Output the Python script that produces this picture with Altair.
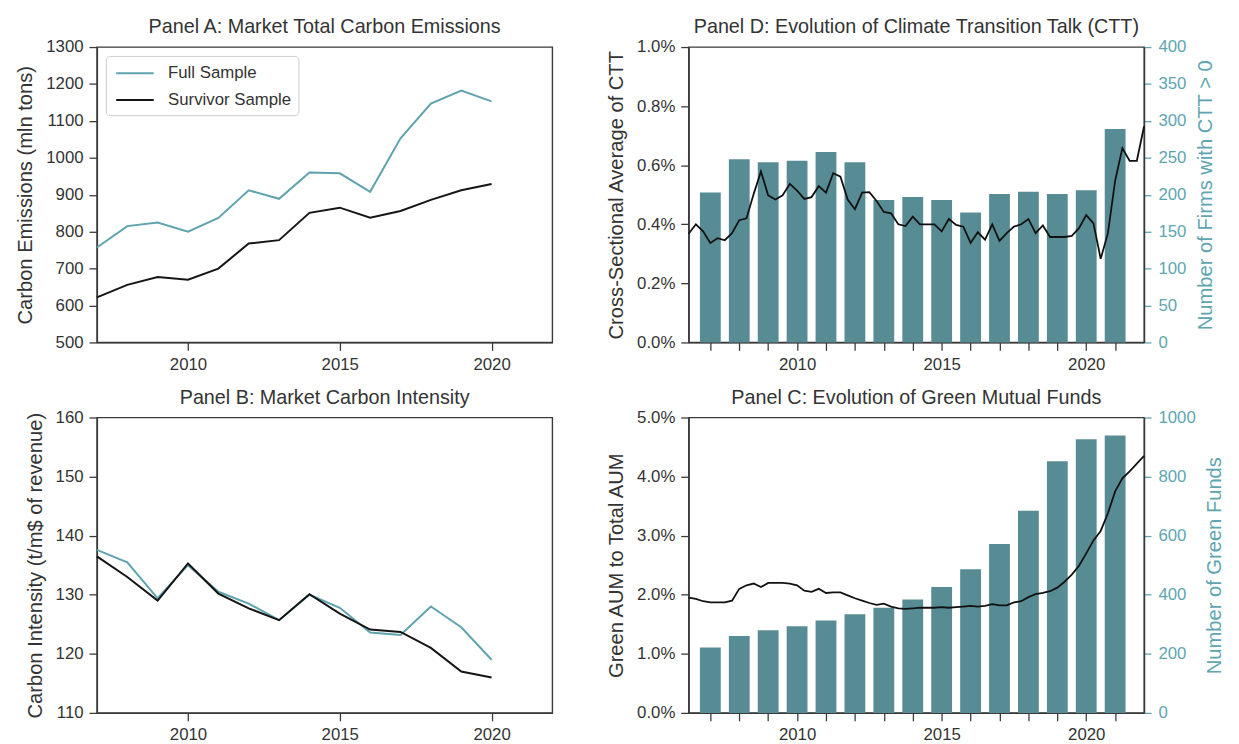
import altair as alt
import pandas as pd

# ---------------- data ----------------
years = [2007, 2008, 2009, 2010, 2011, 2012, 2013, 2014, 2015, 2016, 2017, 2018, 2019, 2020]
full_emissions = [757, 815, 825, 800, 837, 912, 889, 960, 958, 908, 1053, 1147, 1182, 1153]
survivor_emissions = [622, 656, 677, 670, 700, 768, 777, 851, 865, 838, 856, 886, 912, 929]
full_intensity = [137.6, 135.5, 129.4, 135.0, 130.5, 128.5, 125.7, 130.0, 127.8, 123.6, 123.2, 128.0, 124.5, 119.0]
survivor_intensity = [136.5, 133.0, 129.0, 135.3, 130.2, 127.7, 125.7, 130.1, 126.8, 124.1, 123.7, 121.0, 117.0, 116.0]

bar_years = [2007, 2008, 2009, 2010, 2011, 2012, 2013, 2014, 2015, 2016, 2017, 2018, 2019, 2020, 2021]
ctt_firms = [203, 248, 244, 246, 258, 244, 193, 197, 193, 176, 201, 204, 201, 206, 289]
green_funds = [221, 260, 280, 293, 313, 334, 356, 384, 426, 486, 572, 684, 852, 926, 939]

# quarterly time points 2006Q2 .. 2022Q1
quarters = [2006.25 + 0.25 * i for i in range(64)]
ctt_avg = [0.368, 0.400, 0.376,
           0.337, 0.353, 0.346, 0.370,
           0.414, 0.420, 0.503, 0.579,
           0.498, 0.484, 0.498, 0.537,
           0.514, 0.486, 0.492, 0.529,
           0.507, 0.573, 0.561, 0.484,
           0.451, 0.507, 0.509, 0.479,
           0.442, 0.437, 0.400, 0.394,
           0.426, 0.400, 0.400, 0.400,
           0.376, 0.418, 0.398, 0.392,
           0.337, 0.373, 0.348, 0.400,
           0.344, 0.370, 0.392, 0.400,
           0.418, 0.370, 0.396, 0.357,
           0.357, 0.357, 0.361, 0.387,
           0.431, 0.403, 0.283, 0.370,
           0.548, 0.658, 0.615, 0.615,
           0.732]
green_aum = [1.95, 1.93, 1.89,
             1.87, 1.87, 1.87, 1.90,
             2.10, 2.16, 2.19, 2.13,
             2.20, 2.20, 2.20, 2.19,
             2.16, 2.07, 2.05, 2.10,
             2.03, 2.04, 2.04, 1.99,
             1.94, 1.90, 1.86, 1.83,
             1.85, 1.80, 1.77, 1.76,
             1.77, 1.78, 1.78, 1.78,
             1.79, 1.78, 1.79, 1.80,
             1.81, 1.80, 1.81, 1.84,
             1.82, 1.82, 1.87, 1.89,
             1.96, 2.01, 2.03, 2.06,
             2.12, 2.22, 2.34, 2.49,
             2.70, 2.92, 3.08, 3.38,
             3.75, 3.97, 4.09, 4.22,
             4.35]

samples = ["Full Sample", "Survivor Sample"]

# ---------------- style ----------------
FONT = "Liberation Sans"
TXT = "#333333"
SPINE = "#3a3a3a"
TEAL_LINE = "#5ea3ae"
TEAL_BAR = "#588c95"
TEAL_AXIS = "#5ea5b0"
W, H = 461, 299

df_a = pd.DataFrame({"year": years * 2,
                     "value": full_emissions + survivor_emissions,
                     "sample": [samples[0]] * len(years) + [samples[1]] * len(years)})
df_b = pd.DataFrame({"year": years * 2,
                     "value": full_intensity + survivor_intensity,
                     "sample": [samples[0]] * len(years) + [samples[1]] * len(years)})
df_dbar = pd.DataFrame({"year": bar_years, "n": ctt_firms})
df_cbar = pd.DataFrame({"year": bar_years, "n": green_funds})
df_dline = pd.DataFrame({"t": quarters, "v": ctt_avg})
df_cline = pd.DataFrame({"t": quarters, "v": green_aum})

color_scale = alt.Scale(domain=samples, range=[TEAL_LINE, "#151515"])


def x_annual():
    return alt.X("year:Q",
                 scale=alt.Scale(domain=[2007, 2022], nice=False, zero=False),
                 axis=alt.Axis(values=[2010, 2015, 2020], format="d", title=None))


def x_axis_q():
    return alt.Axis(values=bar_years, title=None,
                    labelExpr="datum.value % 5 === 0 ? format(datum.value, 'd') : ''")


xscale_q = alt.Scale(domain=[2006.25, 2022], nice=False, zero=False)

legend_a = alt.Legend(title=None, orient="top-left", offset=9, padding=7,
                      strokeColor="#cccccc", fillColor="white", cornerRadius=4,
                      symbolType="M-2,0H2", symbolSize=361, symbolStrokeWidth=2,
                      symbolOffset=12, labelOffset=23,
                      labelFontSize=17, labelFont=FONT, labelColor=TXT,
                      rowPadding=8)

panel_a = alt.Chart(df_a).mark_line(strokeWidth=2).encode(
    x=x_annual(),
    y=alt.Y("value:Q", scale=alt.Scale(domain=[500, 1300], nice=False, zero=False),
            axis=alt.Axis(values=list(range(500, 1301, 100)), format="d",
                          title="Carbon Emissions (mln tons)")),
    color=alt.Color("sample:N", scale=color_scale, legend=legend_a),
).properties(width=W, height=H, title="Panel A: Market Total Carbon Emissions")

panel_b = alt.Chart(df_b).mark_line(strokeWidth=2).encode(
    x=x_annual(),
    y=alt.Y("value:Q", scale=alt.Scale(domain=[110, 160], nice=False, zero=False),
            axis=alt.Axis(values=list(range(110, 161, 10)), format="d",
                          title="Carbon Intensity (t/m$ of revenue)")),
    color=alt.Color("sample:N", scale=color_scale, legend=None),
).properties(width=W, height=H, title="Panel B: Market Carbon Intensity")


def dual_panel(df_bar, df_line, bar_dom, bar_vals, bar_title, line_dom, line_vals, line_title, title):
    bars = alt.Chart(df_bar).transform_calculate(
        x0="datum.year - 0.36", x1="datum.year + 0.36"
    ).mark_bar(color=TEAL_BAR).encode(
        x=alt.X("x0:Q", scale=xscale_q, axis=x_axis_q()),
        x2="x1:Q",
        y=alt.Y("n:Q", scale=alt.Scale(domain=bar_dom, nice=False),
                axis=alt.Axis(orient="right", values=bar_vals, format="d", title=bar_title,
                              titleColor=TEAL_AXIS, labelColor=TEAL_AXIS, tickColor=TEAL_AXIS,
                              titleAngle=270, titleBaseline="top", titlePadding=10,
                              labelPadding=7, tickSize=7)),
        y2=alt.datum(0),
    )
    line = alt.Chart(df_line).mark_line(color="#111111", strokeWidth=1.8).encode(
        x=alt.X("t:Q", scale=xscale_q, axis=x_axis_q()),
        y=alt.Y("v:Q", scale=alt.Scale(domain=line_dom, nice=False, zero=False),
                axis=alt.Axis(orient="left", values=line_vals, title=line_title,
                              labelExpr="format(datum.value, '.1f') + '%'")),
    )
    return alt.layer(bars, line).resolve_scale(y="independent").properties(
        width=W, height=H, title=title)


panel_d = dual_panel(df_dbar, df_dline, [0, 400], list(range(0, 401, 50)),
                     "Number of Firms with CTT > 0", [0, 1.0],
                     [0, 0.2, 0.4, 0.6, 0.8, 1.0], "Cross-Sectional Average of CTT",
                     "Panel D: Evolution of Climate Transition Talk (CTT)")
panel_c = dual_panel(df_cbar, df_cline, [0, 1000], list(range(0, 1001, 200)),
                     "Number of Green Funds", [0, 5.0],
                     [0, 1, 2, 3, 4, 5], "Green AUM to Total AUM",
                     "Panel C: Evolution of Green Mutual Funds")

chart = alt.concat(panel_a, panel_d, panel_b, panel_c, columns=2,
                   spacing={"row": 76, "column": 138}, bounds="flush"
                   ).resolve_scale(x="independent", y="independent", color="independent"
                   ).properties(padding={"left": 7, "top": 4, "right": 5, "bottom": 0}
                   ).configure(font=FONT, background="white"
                   ).configure_view(stroke=SPINE, strokeWidth=1.4
                   ).configure_axis(domainColor=SPINE, domainWidth=1.4, tickColor=SPINE,
                                    tickWidth=1.3, tickSize=8, labelFontSize=17, labelColor=TXT,
                                    labelFont=FONT, titleFont=FONT, titleFontSize=20.4,
                                    titleColor=TXT, titleFontWeight="normal", grid=False,
                                    labelPadding=6, titlePadding=10
                   ).configure_title(fontSize=20, fontWeight="normal", color=TXT, font=FONT,
                                     anchor="middle", offset=1)

chart.save("out.html", embed_options={"renderer": "svg", "actions": False})
